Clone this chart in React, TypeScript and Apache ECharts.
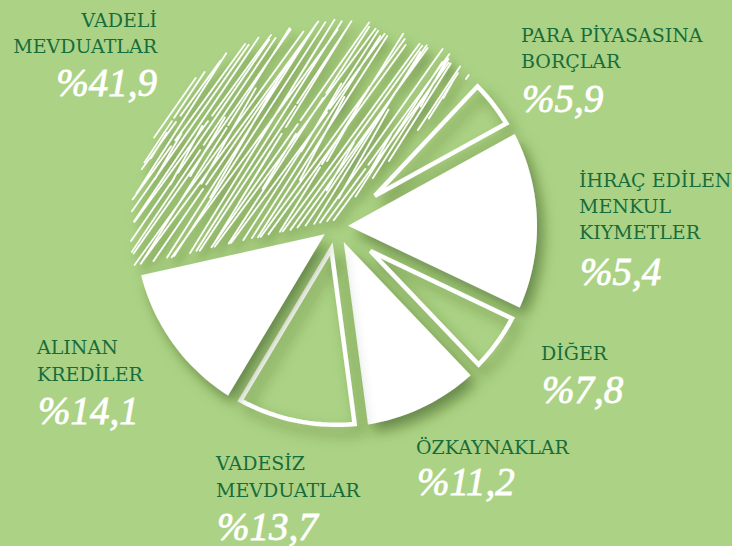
import React, { useEffect, useRef } from "react";
import * as echarts from "echarts";

// Category names (as printed, split into lines)
const categoryLines: string[][] = [
  ["VADELİ", "MEVDUATLAR"],
  ["PARA PİYASASINA", "BORÇLAR"],
  ["İHRAÇ EDİLEN", "MENKUL", "KIYMETLER"],
  ["DİĞER"],
  ["ÖZKAYNAKLAR"],
  ["VADESİZ", "MEVDUATLAR"],
  ["ALINAN", "KREDİLER"],
];
// Printed percentage labels
const percentLabels = ["%41,9", "%5,9", "%5,4", "%7,8", "%11,2", "%13,7", "%14,1"];
// Angular share of each slice as drawn in the picture (percent of the full circle)
const sliceShares = [40.6, 5.0, 15.1, 5.8, 10.0, 10.7, 12.9];
// Fill kind of each slice
const sliceKinds = ["hatch", "outline", "solid", "outline", "solid", "outline", "solid"];

// ---- layout / style (kept apart from data) ----
const BG = "#acd385";
const LABEL_COLOR = "#176c3c";
const START_ANGLE = 193; // degrees, counter-clockwise from +x; slices run clockwise
const CX_RATIO = 336 / 732;
const CY_RATIO = 226 / 546;
const RADIUS = 201;
const GAP_HALF = 5.5;
const labelLayout = [
  { x: 157, align: "right", lines: [19.5, 46], pct: 82 },
  { x: 521, align: "left", lines: [35.3, 60.5], pct: 98 },
  { x: 579, align: "left", lines: [180, 206, 231.5], pct: 271 },
  { x: 541, align: "left", lines: [352.5], pct: 389 },
  { x: 416, align: "left", lines: [446.5], pct: 481 },
  { x: 216, align: "left", lines: [462.7, 490], pct: 526 },
  { x: 37, align: "left", lines: [347, 374], pct: 410 },
];

const cumBefore = sliceShares.map((_, i) =>
  sliceShares.slice(0, i).reduce((a, b) => a + b, 0)
);

const hash = (n: number) => {
  const x = Math.sin(n * 12.9898 + 78.233) * 43758.5453;
  return x - Math.floor(x);
};

function clipLine(
  p0: number[], dir: number[], cx: number, cy: number, R: number,
  th0: number, th1: number, d: number
) {
  const ox = p0[0] - cx, oy = p0[1] - cy;
  const b = ox * dir[0] + oy * dir[1];
  const c = ox * ox + oy * oy - R * R;
  const disc = b * b - c;
  if (disc <= 0) return null;
  let t1 = -b - Math.sqrt(disc), t2 = -b + Math.sqrt(disc);
  let c1 = true, c2 = true;
  const ns = [Math.sin(th0), Math.cos(th0)];
  const ne = [-Math.sin(th1), -Math.cos(th1)];
  for (const n of [ns, ne]) {
    const dn = dir[0] * n[0] + dir[1] * n[1];
    const on = ox * n[0] + oy * n[1];
    if (Math.abs(dn) < 1e-9) { if (on < d) return null; continue; }
    const t = (d - on) / dn;
    if (dn > 0) { if (t > t1) { t1 = t; c1 = false; } }
    else { if (t < t2) { t2 = t; c2 = false; } }
  }
  if (t2 <= t1) return null;
  return { t1, t2, c1, c2 };
}

function renderSlice(params: any, api: any) {
  const share = api.value(0) as number;
  const before = api.value(1) as number;
  const kind = sliceKinds[params.dataIndex];
  const W = api.getWidth(), H = api.getHeight();
  const cx = W * CX_RATIO, cy = H * CY_RATIO;
  const th0 = ((START_ANGLE - before * 3.6) * Math.PI) / 180;
  const th1 = ((START_ANGLE - (before + share) * 3.6) * Math.PI) / 180;
  const outline = kind === "outline";
  const d = outline ? GAP_HALF + 2.2 : GAP_HALF;
  const R = outline ? RADIUS - 2.2 : RADIUS;
  const P = (r: number, t: number) => [cx + r * Math.cos(t), cy - r * Math.sin(t)];
  const alpha = (th0 - th1) / 2;
  const apex = P(d / Math.sin(alpha), (th0 + th1) / 2);
  const delta = Math.asin(d / R);
  const a0 = th0 - delta, a1 = th1 + delta;
  const steps = Math.max(4, Math.ceil(((a0 - a1) * 180) / Math.PI / 2));
  const pts: number[][] = [apex];
  for (let s = 0; s <= steps; s++) pts.push(P(R, a0 + ((a1 - a0) * s) / steps));

  const shadow = {
    shadowBlur: 14,
    shadowOffsetX: 6,
    shadowOffsetY: 8,
    shadowColor: "rgba(45,75,15,0.55)",
  };

  if (kind === "solid") {
    return { type: "polygon", shape: { points: pts }, style: { fill: "#ffffff", ...shadow } };
  }
  if (kind === "outline") {
    return {
      type: "polygon",
      shape: { points: pts },
      style: { fill: "none", stroke: "#ffffff", lineWidth: 4.4, lineJoin: "miter", ...shadow },
    };
  }
  // hatch texture (decorative pen strokes, deterministic)
  let pathData = "";
  const families = [
    { base: 56, jit: 2.5, spacing: 5.0, seed: 1, partial: false },
    { base: 60, jit: 2, spacing: 14, seed: 7, partial: true },
  ];
  for (const f of families) {
    const kmax = Math.ceil(RADIUS / f.spacing) + 1;
    for (let k = -kmax; k <= kmax; k++) {
      const hk = hash(k * 3.1 + f.seed);
      const ang = ((f.base + f.jit * (2 * hk - 1)) * Math.PI) / 180;
      const dir = [Math.cos(ang), -Math.sin(ang)];
      const nrm = [Math.sin(ang), Math.cos(ang)];
      const off = k * f.spacing + 1.4 * (hash(k + f.seed * 5) - 0.5) + (f.partial ? 2.5 : 0);
      const p0 = [cx + nrm[0] * off, cy + nrm[1] * off];
      const cl = clipLine(p0, dir, cx, cy, RADIUS + 3, th0, th1, d);
      if (!cl) continue;
      let t1 = cl.t1, t2 = cl.t2;
      t1 += cl.c1 ? -3 + 14 * hash(k * 1.7 + f.seed) : 1 + 2 * hash(k + 11);
      t2 -= cl.c2 ? -3 + 14 * hash(k * 2.3 + f.seed + 4) : 1 + 3 * hash(k + 17);
      if (f.partial) {
        const len = t2 - t1;
        const s0 = t1 + len * (0.1 + 0.4 * hash(k * 5.3));
        const s1 = s0 + len * (0.2 + 0.35 * hash(k * 6.1));
        t1 = s0; t2 = Math.min(t2, s1);
      }
      if (t2 - t1 < 4) continue;
      const segs: number[][] = [];
      if (!f.partial && hash(k * 4.7 + 2) < 0.3 && t2 - t1 > 40) {
        const m = t1 + (t2 - t1) * (0.3 + 0.4 * hash(k * 8.9));
        const g = 3 + 5 * hash(k * 9.7);
        segs.push([t1, m - g / 2], [m + g / 2, t2]);
      } else segs.push([t1, t2]);
      for (const [u, v] of segs) {
        const x1 = p0[0] + dir[0] * u, y1 = p0[1] + dir[1] * u;
        const x2 = p0[0] + dir[0] * v, y2 = p0[1] + dir[1] * v;
        pathData += `M${x1.toFixed(1)} ${y1.toFixed(1)}L${x2.toFixed(1)} ${y2.toFixed(1)}`;
      }
    }
  }
  return {
    type: "path",
    shape: { pathData },
    style: {
      fill: "none",
      stroke: "#ffffff",
      lineWidth: 1.7,
      lineCap: "round",
      shadowBlur: 10,
      shadowOffsetX: 5,
      shadowOffsetY: 7,
      shadowColor: "rgba(45,75,15,0.5)",
    },
  };
}

function buildGraphic() {
  const els: any[] = [];
  labelLayout.forEach((lay, i) => {
    categoryLines[i].forEach((line, j) => {
      els.push({
        type: "text",
        x: lay.x,
        y: lay.lines[j],
        silent: true,
        style: {
          text: line,
          font: "19px 'DejaVu Serif'",
          fill: LABEL_COLOR,
          textAlign: lay.align,
          align: lay.align,
          textVerticalAlign: "middle",
          verticalAlign: "middle",
        },
      });
    });
    els.push({
      type: "text",
      x: lay.align === "left" ? lay.x + 1 : lay.x,
      y: lay.pct,
      silent: true,
      style: {
        text: percentLabels[i],
        font: "italic 39px 'Liberation Serif'",
        lineHeight: 30,
        fill: "#ffffff",
        stroke: "#ffffff",
        lineWidth: 0.8,
        textAlign: lay.align,
        align: lay.align,
        textVerticalAlign: "middle",
        verticalAlign: "middle",
      },
    });
  });
  return els;
}

export default function App() {
  const ref = useRef<HTMLDivElement>(null);
  useEffect(() => {
    if (!ref.current) return;
    const chart = echarts.init(ref.current, null, { renderer: "svg" });
    chart.setOption({
      animation: false,
      backgroundColor: BG,
      series: [
        {
          type: "custom",
          coordinateSystem: "none",
          silent: true,
          data: sliceShares.map((v, i) => [v, cumBefore[i]]),
          renderItem: renderSlice,
        },
      ],
      graphic: buildGraphic(),
    });
    return () => chart.dispose();
  }, []);
  return (
    <div
      ref={ref}
      style={{ position: "fixed", left: 0, top: 0, width: 732, height: 546 }}
    />
  );
}
